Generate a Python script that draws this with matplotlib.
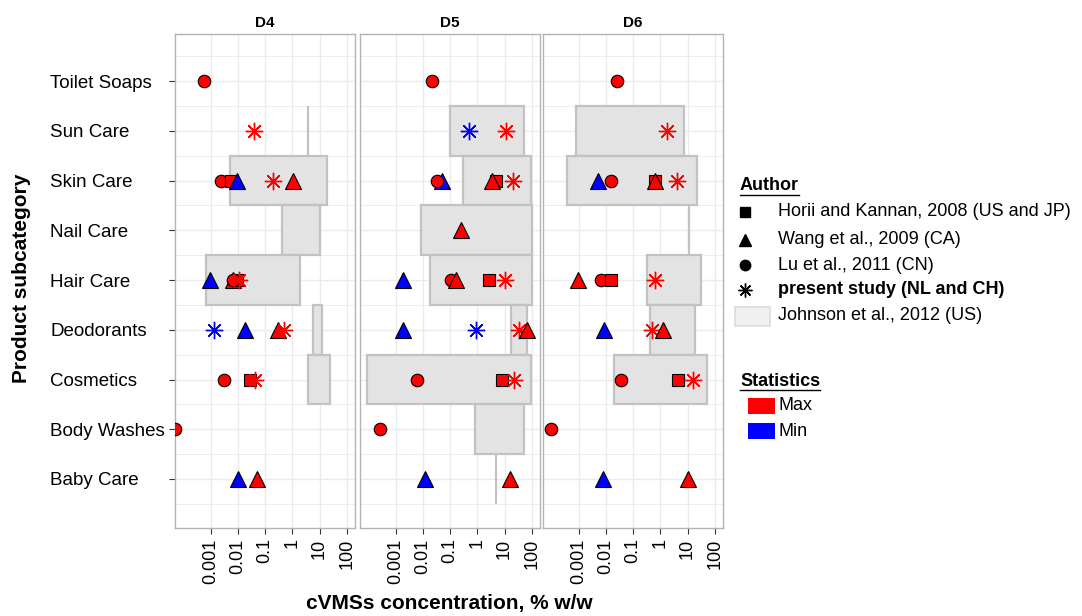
import matplotlib
matplotlib.use('Agg')
import matplotlib.pyplot as plt
from matplotlib.lines import Line2D
from matplotlib.patches import Rectangle

plt.rcParams['font.family'] = ['Liberation Sans', 'DejaVu Sans']

# ---------------- data ----------------
categories = ['Baby Care', 'Body Washes', 'Cosmetics', 'Deodorants', 'Hair Care',
              'Nail Care', 'Skin Care', 'Sun Care', 'Toilet Soaps']
facets = ['D4', 'D5', 'D6']
authors = ['Horii and Kannan, 2008 (US and JP)', 'Wang et al., 2009 (CA)',
           'Lu et al., 2011 (CN)', 'present study (NL and CH)']
statistics = ['Max', 'Min']
x_ticks = [0.001, 0.01, 0.1, 1, 10, 100]
x_ticklabels = ['0.001', '0.01', '0.1', '1', '10', '100']

# literature / measured points: facet, category, author index, statistic, value (% w/w)
pt_facet = ['D4'] * 22 + ['D5'] * 24 + ['D6'] * 20
pt_category = [
    # D4
    'Toilet Soaps', 'Sun Care',
    'Skin Care', 'Skin Care', 'Skin Care', 'Skin Care', 'Skin Care',
    'Hair Care', 'Hair Care', 'Hair Care', 'Hair Care', 'Hair Care',
    'Deodorants', 'Deodorants', 'Deodorants', 'Deodorants',
    'Cosmetics', 'Cosmetics', 'Cosmetics',
    'Body Washes', 'Baby Care', 'Baby Care',
    # D5
    'Toilet Soaps', 'Sun Care', 'Sun Care',
    'Skin Care', 'Skin Care', 'Skin Care', 'Skin Care', 'Skin Care',
    'Nail Care',
    'Hair Care', 'Hair Care', 'Hair Care', 'Hair Care', 'Hair Care',
    'Deodorants', 'Deodorants', 'Deodorants', 'Deodorants',
    'Cosmetics', 'Cosmetics', 'Cosmetics',
    'Body Washes', 'Baby Care', 'Baby Care',
    # D6
    'Toilet Soaps', 'Sun Care',
    'Skin Care', 'Skin Care', 'Skin Care', 'Skin Care', 'Skin Care',
    'Hair Care', 'Hair Care', 'Hair Care', 'Hair Care',
    'Deodorants', 'Deodorants', 'Deodorants',
    'Cosmetics', 'Cosmetics', 'Cosmetics',
    'Body Washes', 'Baby Care', 'Baby Care',
]
pt_author = [
    # D4
    2, 3,
    2, 0, 1, 3, 1,
    1, 1, 0, 2, 3,
    3, 1, 1, 3,
    2, 0, 3,
    2, 1, 1,
    # D5
    2, 3, 3,
    1, 2, 0, 1, 3,
    1,
    1, 2, 1, 0, 3,
    1, 3, 3, 1,
    2, 0, 3,
    2, 1, 1,
    # D6
    2, 3,
    1, 2, 0, 1, 3,
    1, 2, 0, 3,
    1, 3, 1,
    2, 0, 3,
    2, 1, 1,
]
pt_stat = [
    # D4
    'Max', 'Max',
    'Max', 'Max', 'Min', 'Max', 'Max',
    'Min', 'Max', 'Max', 'Max', 'Max',
    'Min', 'Min', 'Max', 'Max',
    'Max', 'Max', 'Max',
    'Max', 'Min', 'Max',
    # D5
    'Max', 'Min', 'Max',
    'Min', 'Max', 'Max', 'Max', 'Max',
    'Max',
    'Min', 'Max', 'Max', 'Max', 'Max',
    'Min', 'Min', 'Max', 'Max',
    'Max', 'Max', 'Max',
    'Max', 'Min', 'Max',
    # D6
    'Max', 'Max',
    'Min', 'Max', 'Max', 'Max', 'Max',
    'Max', 'Max', 'Max', 'Max',
    'Min', 'Max', 'Max',
    'Max', 'Max', 'Max',
    'Max', 'Min', 'Max',
]
pt_value = [
    # D4
    0.00059, 0.039,
    0.0023, 0.0058, 0.0093, 0.19, 1.05,
    0.00098, 0.0066, 0.0089, 0.0066, 0.011,
    0.00135, 0.018, 0.29, 0.50,
    0.0032, 0.027, 0.041,
    0.00005, 0.010, 0.051,
    # D5
    0.021, 0.51, 11.0,
    0.052, 0.033, 4.7, 3.5, 21.0,
    0.25,
    0.0018, 0.107, 0.166, 2.6, 10.2,
    0.0018, 0.91, 34.0, 69.0,
    0.006, 8.3, 22.0,
    0.00026, 0.012, 15.5,
    # D6
    0.025, 1.8,
    0.0051, 0.016, 0.66, 0.62, 4.0,
    0.00098, 0.0065, 0.0155, 0.66,
    0.0087, 0.51, 1.3,
    0.036, 4.5, 16.0,
    0.000093, 0.0078, 10.0,
]

# Johnson et al., 2012 (US) ranges
jr_facet = ['D4'] * 6 + ['D5'] * 8 + ['D6'] * 6
jr_category = ['Sun Care', 'Skin Care', 'Nail Care', 'Hair Care', 'Deodorants', 'Cosmetics',
               'Sun Care', 'Skin Care', 'Nail Care', 'Hair Care', 'Deodorants', 'Cosmetics',
               'Body Washes', 'Baby Care',
               'Sun Care', 'Skin Care', 'Nail Care', 'Hair Care', 'Deodorants', 'Cosmetics']
jr_min = [3.85, 0.005, 0.40, 0.00068, 5.7, 3.76,
          0.10, 0.30, 0.0084, 0.0186, 17.8, 0.0000891, 0.85, 4.95,
          0.00081, 0.00038, 11.4, 0.32, 0.41, 0.020]
jr_max = [3.85, 19.0, 10.2, 1.97, 12.0, 23.7,
          52.0, 92.0, 98.0, 98.0, 69.0, 91.0, 52.0, 4.95,
          7.4, 23.0, 11.4, 32.0, 19.0, 52.0]

# ---------------- style ----------------
W, H = 1082, 616
stat_color = {'Max': '#FF0000', 'Min': '#0000FF'}
author_marker = ['s', '^', 'o', (8, 2, 0)]
author_size = [9.0, 11.5, 9.0, 12.5]
grid_c = '#ebebeb'
border_c = '#b3b3b3'
rect_fill = '#e3e3e3'
rect_edge = '#c2c2c2'

fig = plt.figure(figsize=(W / 100, H / 100), dpi=100)
panel_left = [175, 360, 543]
panel_w = 180
p_top, p_bot = 34, 528
ypos = {c: i + 1 for i, c in enumerate(categories)}
tick_len = 4.5  # points

for fi, facet in enumerate(facets):
    ax = fig.add_axes([panel_left[fi] / W, 1 - p_bot / H, panel_w / W, (p_bot - p_top) / H])
    ax.set_xscale('log')
    ax.set_xlim(10 ** -4.31, 10 ** 2.3)
    ax.set_ylim(0.015, 9.945)
    ax.set_xticks(x_ticks)
    ax.set_xticklabels(x_ticklabels, rotation=90, fontsize=13)
    ax.xaxis.set_minor_locator(matplotlib.ticker.NullLocator())
    ax.set_yticks(range(1, 10))
    ax.set_yticks([i + 0.5 for i in range(0, 10)], minor=True)
    if fi == 0:
        ax.set_yticklabels(categories, fontsize=13.5, ha='left')
        pad_pt = (panel_left[0] - 50) * 0.72 - tick_len
        ax.tick_params(axis='y', which='major', pad=pad_pt, length=tick_len, color='#333333')
    else:
        ax.set_yticklabels([])
        ax.tick_params(axis='y', which='major', length=0)
    ax.tick_params(axis='y', which='minor', length=0)
    ax.tick_params(axis='x', which='major', length=tick_len, color='#333333', pad=3)
    ax.grid(True, which='major', color=grid_c, lw=1.0, zorder=0)
    ax.grid(True, which='minor', axis='y', color=grid_c, lw=0.6, zorder=0)
    ax.set_axisbelow(True)
    for sp in ax.spines.values():
        sp.set_color(border_c)
        sp.set_linewidth(1.0)

    # Johnson ranges
    for f, c, lo, hi in zip(jr_facet, jr_category, jr_min, jr_max):
        if f != facet:
            continue
        y = ypos[c]
        ax.add_patch(Rectangle((lo, y - 0.5), hi - lo, 1.0, facecolor=rect_fill,
                               edgecolor=rect_edge, lw=1.6, zorder=1))

    # points
    for f, c, a, s, v in zip(pt_facet, pt_category, pt_author, pt_stat, pt_value):
        if f != facet:
            continue
        y = ypos[c]
        col = stat_color[s]
        if a == 3:
            ax.plot([v], [y], linestyle='none', marker=author_marker[a], ms=author_size[a],
                    mec=col, mew=1.0, zorder=3, clip_on=True)
        else:
            ax.plot([v], [y], linestyle='none', marker=author_marker[a], ms=author_size[a],
                    mfc=col, mec='black', mew=0.8, zorder=3, clip_on=True)

    ax.text(0.5, 1 + 11 / (p_bot - p_top), facet, transform=ax.transAxes, ha='center',
            va='center', fontsize=11, fontweight='bold')

# axis titles
fig.text(22 / W, 1 - 278 / H, 'Product subcategory', rotation=90, ha='center', va='center',
         fontsize=15, fontweight='bold')
fig.text(449 / W, 1 - 603 / H, 'cVMSs concentration, % w/w', ha='center', va='center',
         fontsize=15, fontweight='bold')

# ---------------- legends ----------------
def fy(y):
    return 1 - y / H

def title_underlined(x, y, txt):
    t = fig.text(x / W, fy(y), txt, ha='left', va='center', fontsize=13, fontweight='bold')
    fig.canvas.draw()
    bb = t.get_window_extent()
    fig.add_artist(Line2D([bb.x0 / W, bb.x1 / W], [fy(y + 9), fy(y + 9)], color='black', lw=1.0))

title_underlined(740, 186, 'Author')
leg_y = [212, 240, 265, 290]
for i, (a, yy) in enumerate(zip(authors, leg_y)):
    if i == 3:
        fig.add_artist(Line2D([745 / W], [fy(yy)], marker=author_marker[i], ms=10,
                              mec='black', mew=1.0, linestyle='none'))
    else:
        fig.add_artist(Line2D([745 / W], [fy(yy)], marker=author_marker[i],
                              ms=[7.5, 9, 7.5][i], mfc='black', mec='black', linestyle='none'))
    fig.text(778 / W, fy(yy), a, ha='left', va='center', fontsize=13,
             fontweight='bold' if i == 3 else 'normal')
fig.add_artist(Rectangle((735 / W, fy(326)), 35 / W, 19 / H, facecolor='#f0f0f0',
                         edgecolor='#dcdcdc', lw=1.2, transform=fig.transFigure))
fig.text(778 / W, fy(316), 'Johnson et al., 2012 (US)', ha='left', va='center', fontsize=13)

title_underlined(740, 381, 'Statistics')
for s, yy in zip(statistics, [406, 431]):
    fig.add_artist(Rectangle((748 / W, fy(yy + 8)), 27 / W, 16 / H, facecolor=stat_color[s],
                             edgecolor='none', transform=fig.transFigure))
    fig.text(778 / W, fy(yy), s, ha='left', va='center', fontsize=13)

fig.savefig('out.png', dpi=100)
